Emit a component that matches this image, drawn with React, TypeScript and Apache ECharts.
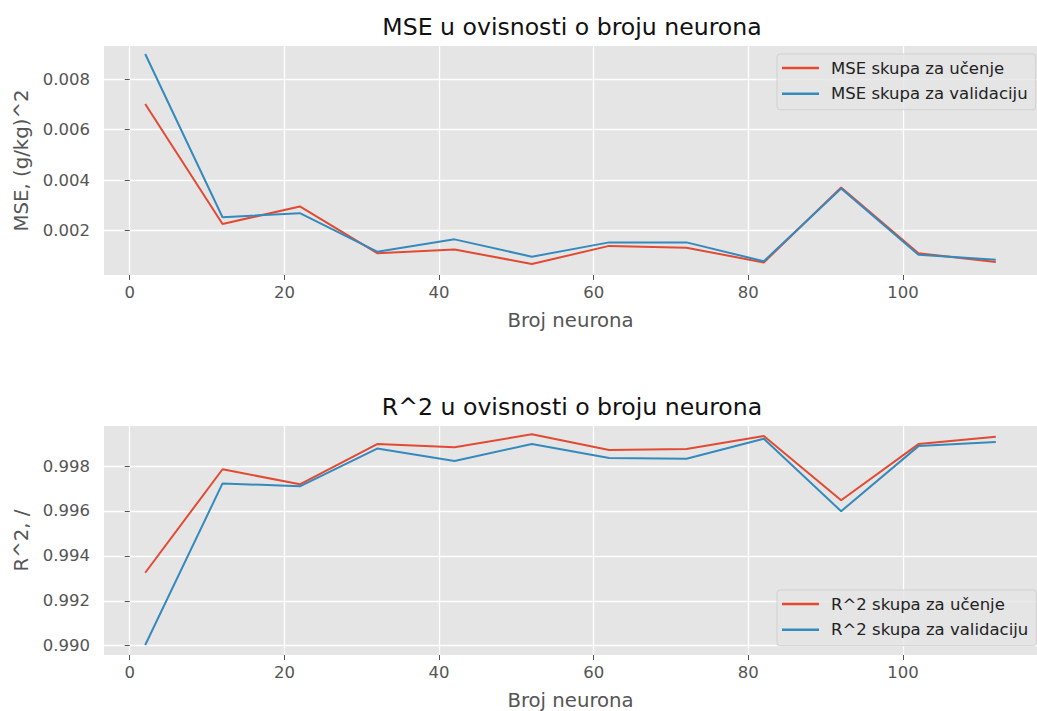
import React, { useEffect, useRef } from "react";
import * as echarts from "echarts";

const neurons = [2, 12, 22, 32, 42, 52, 62, 72, 82, 92, 102, 112];
const mseTrain = [0.00702, 0.00225, 0.00295, 0.00109, 0.00124, 0.00066, 0.00138, 0.00131, 0.00072, 0.0037, 0.00109, 0.00074];
const mseVal = [0.00901, 0.00252, 0.00268, 0.00115, 0.00164, 0.00095, 0.00152, 0.00152, 0.00077, 0.00366, 0.00103, 0.00083];
const r2Train = [0.99325, 0.99786, 0.99719, 0.99898, 0.99884, 0.99942, 0.99872, 0.99876, 0.99934, 0.99648, 0.99898, 0.99931];
const r2Val = [0.99003, 0.99723, 0.9971, 0.99878, 0.99823, 0.99898, 0.99836, 0.99833, 0.99922, 0.99599, 0.99889, 0.99907];
const xTicks = [0, 20, 40, 60, 80, 100];
const mseTicks = [0.002, 0.004, 0.006, 0.008];
const r2Ticks = [0.99, 0.992, 0.994, 0.996, 0.998];

const titles = ["MSE u ovisnosti o broju neurona", "R^2 u ovisnosti o broju neurona"];
const yNames = ["MSE, (g/kg)^2", "R^2, /"];
const xName = "Broj neurona";
const names = [
  ["MSE skupa za učenje", "MSE skupa za validaciju"],
  ["R^2 skupa za učenje", "R^2 skupa za validaciju"],
];

const RED = "#E24A33";
const BLUE = "#348ABD";
const FONT = "DejaVu Sans";
const GRAY = "#555555";

const pairs = (ys: number[]) => neurons.map((x, i) => [x, ys[i]]);

export default function App() {
  const ref = useRef<HTMLDivElement>(null);
  useEffect(() => {
    if (!ref.current) return;
    const chart = echarts.init(ref.current, null, { renderer: "svg" });
    const grids = [
      { left: 104, top: 46, width: 942, height: 229 },
      { left: 104, top: 426, width: 942, height: 229 },
    ];
    const xAxis = [0, 1].map((i) => ({
      type: "value",
      gridIndex: i,
      min: -3.33,
      max: 117.33,
      name: xName,
      nameLocation: "middle",
      nameGap: 35,
      nameTextStyle: { fontFamily: FONT, fontSize: 19.7, color: GRAY },
      axisLine: { show: false },
      axisTick: { show: true, length: 5, customValues: xTicks, lineStyle: { color: GRAY, width: 1 } },
      axisLabel: { customValues: xTicks, margin: 9, fontFamily: FONT, fontSize: 16.5, color: GRAY },
      splitLine: { show: true, lineStyle: { color: "#ffffff", width: 1.3 } },
    }));
    const yCfg = [
      { min: 0.000223, max: 0.009328, ticks: mseTicks },
      { min: 0.989586, max: 0.999786, ticks: r2Ticks },
    ];
    const yAxis = [0, 1].map((i) => ({
      type: "value",
      gridIndex: i,
      min: yCfg[i].min,
      max: yCfg[i].max,
      name: yNames[i],
      nameLocation: "middle",
      nameGap: 71,
      nameTextStyle: { fontFamily: FONT, fontSize: 19.7, color: GRAY },
      axisLine: { show: false },
      axisTick: { show: true, length: 5, customValues: yCfg[i].ticks, lineStyle: { color: GRAY, width: 1 } },
      axisLabel: {
        customValues: yCfg[i].ticks,
        margin: 14,
        fontFamily: FONT,
        fontSize: 16.5,
        color: GRAY,
        formatter: (v: number) => v.toFixed(3),
      },
      splitLine: { show: true, lineStyle: { color: "#ffffff", width: 1.3 } },
    }));
    const series = [
      { name: names[0][0], data: pairs(mseTrain), color: RED, idx: 0 },
      { name: names[0][1], data: pairs(mseVal), color: BLUE, idx: 0 },
      { name: names[1][0], data: pairs(r2Train), color: RED, idx: 1 },
      { name: names[1][1], data: pairs(r2Val), color: BLUE, idx: 1 },
    ].map((s) => ({
      type: "line",
      name: s.name,
      xAxisIndex: s.idx,
      yAxisIndex: s.idx,
      data: s.data,
      showSymbol: false,
      symbol: "none",
      color: s.color,
      lineStyle: { color: s.color, width: 2 },
    }));
    const legendBase = {
      orient: "vertical",
      left: 777,
      icon: "rect",
      itemWidth: 37,
      itemHeight: 2.5,
      itemGap: 5.7,
      padding: [4, 8, 6, 5],
      backgroundColor: "rgba(229,229,229,0.8)",
      borderColor: "rgba(204,204,204,0.8)",
      borderWidth: 1,
      borderRadius: 3,
      textStyle: { fontFamily: FONT, fontSize: 16.5, color: "#222", lineHeight: 20, padding: [0, 0, 0, 7] },
    };
    chart.setOption({
      animation: false,
      backgroundColor: "#ffffff",
      grid: grids.map((g) => ({ ...g, show: true, backgroundColor: "#E5E5E5", borderWidth: 0 })),
      xAxis,
      yAxis,
      series,
      legend: [
        { ...legendBase, top: 54, data: names[0] },
        { ...legendBase, top: 590, data: names[1] },
      ],
      graphic: [
        {
          type: "text",
          x: 572,
          y: 27,
          style: { text: titles[0], align: "center", verticalAlign: "middle", font: `23.6px "${FONT}"`, fill: "#111" },
        },
        {
          type: "text",
          x: 572,
          y: 407,
          style: { text: titles[1], align: "center", verticalAlign: "middle", font: `23.6px "${FONT}"`, fill: "#111" },
        },
      ],
    });
    return () => chart.dispose();
  }, []);
  return (
    <div
      ref={ref}
      style={{ position: "absolute", left: 0, top: 0, width: 1037, height: 711, background: "#fff" }}
    />
  );
}
